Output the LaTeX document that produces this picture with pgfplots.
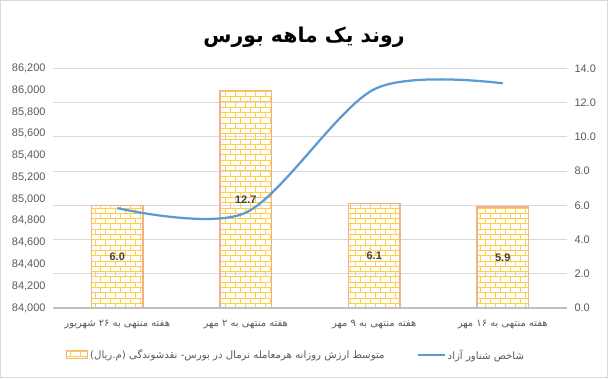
\documentclass[border=0pt]{standalone}
\usepackage{fontspec}
\setmainfont{Liberation Sans}
\newfontfamily\arabicfont[Script=Arabic]{DejaVu Sans}
\TeXXeTstate=1
\usepackage{pgfplots}
\pgfplotsset{compat=1.18}
\usetikzlibrary{patterns}

\definecolor{brick}{RGB}{255,205,70}
\definecolor{brickedge}{RGB}{244,177,131}
\definecolor{lineblue}{RGB}{91,155,213}
\definecolor{gridc}{RGB}{217,217,217}
\definecolor{tickc}{RGB}{89,89,89}
\definecolor{basec}{RGB}{191,191,191}

\pgfdeclarepatternformonly{mybricks}{\pgfqpoint{-1bp}{-1bp}}{\pgfqpoint{11bp}{11.6bp}}{\pgfqpoint{10bp}{10.6bp}}{
  \pgfsetlinewidth{0.8bp}
  \pgfpathmoveto{\pgfqpoint{0bp}{0.5bp}}\pgfpathlineto{\pgfqpoint{10bp}{0.5bp}}
  \pgfpathmoveto{\pgfqpoint{0bp}{5.8bp}}\pgfpathlineto{\pgfqpoint{10bp}{5.8bp}}
  \pgfpathmoveto{\pgfqpoint{0.5bp}{0.5bp}}\pgfpathlineto{\pgfqpoint{0.5bp}{5.8bp}}
  \pgfpathmoveto{\pgfqpoint{5.5bp}{5.8bp}}\pgfpathlineto{\pgfqpoint{5.5bp}{10.6bp}}
  \pgfusepath{stroke}
}

\begin{document}
\begin{tikzpicture}[x=1bp,y=1bp]
\draw[gridc, line width=1bp] (0.5,0.5) rectangle (607.5,377.5);
\useasboundingbox (0,0) rectangle (608,378);
\node[font=\arabicfont\bfseries\fontsize{20.5}{24}\selectfont, text=black] at (304,341) {\beginR روند یک ماهه بورس\endR};

% right axis: bars
\begin{axis}[
  at={(53bp,70bp)}, anchor=south west, scale only axis,
  width=514bp, height=239.7bp,
  xmin=-0.5, xmax=3.5, ymin=0, ymax=14,
  ytick={0,2,4,6,8,10,12,14},
  yticklabel pos=right,
  axis line style={draw=none},
  major tick length=0pt,
  ymajorgrids, grid style={gridc, line width=0.75bp},
  xtick={0,1,2,3},
  xticklabels={
    {\beginR هفته منتهی به ۲۶ شهریور\endR},
    {\beginR هفته منتهی به ۲ مهر\endR},
    {\beginR هفته منتهی به ۹ مهر\endR},
    {\beginR هفته منتهی به ۱۶ مهر\endR}},
  x tick label style={font=\arabicfont\fontsize{10}{12}\selectfont, text=tickc, yshift=-9bp},
  y tick label style={font=\fontsize{11}{13}\selectfont, text=tickc, xshift=4bp,
    /pgf/number format/.cd, fixed, fixed zerofill, precision=1, assume math mode=true, /tikz/.cd},
]
\addplot[ybar, bar width=51.7bp, pattern=mybricks, pattern color=brick, draw=brickedge, line width=1.5bp,
  visualization depends on=rawy \as \rawy,
  nodes near coords={\pgfmathprintnumber[fixed,fixed zerofill,precision=1,assume math mode=true]{\pgfplotspointmeta}},
  every node near coord/.append style={anchor=center, yshift=-\rawy*8.5607bp, font=\bfseries\fontsize{11}{13}\selectfont, text=black!75}]
  coordinates {(0,6.0) (1,12.7) (2,6.1) (3,5.9)};
\draw[basec, line width=1.5bp] (axis cs:-0.5,0) -- (axis cs:3.5,0);
\end{axis}

% left axis: line
\begin{axis}[
  at={(53bp,70bp)}, anchor=south west, scale only axis,
  width=514bp, height=239.7bp,
  xmin=-0.5, xmax=3.5, ymin=84000, ymax=86200,
  ytick={84000,84200,...,86200},
  scaled y ticks=false,
  axis line style={draw=none},
  major tick length=0pt,
  xtick=\empty,
  y tick label style={font=\fontsize{11}{13}\selectfont, text=tickc, xshift=-4bp,
    /pgf/number format/.cd, fixed, precision=0, 1000 sep={,}, assume math mode=true, /tikz/.cd},
  legend columns=2,
  legend style={at={(0.473,-0.196)}, anchor=center, draw=none, fill=none,
    font=\arabicfont\fontsize{10.2}{12}\selectfont, text=tickc,
    /tikz/every even column/.append style={column sep=30bp}},
]
\addlegendimage{legend image code/.code={\draw[pattern=mybricks, pattern color=brick, draw=brickedge, line width=1bp] (0bp,-4bp) rectangle (21bp,4bp);}}
\addlegendentry{\beginR متوسط ارزش روزانه هرمعامله نرمال در بورس- نقدشوندگی (م.ریال)\endR}
\addplot[lineblue, line width=2.25bp, smooth, mark=none,
  legend image code/.code={\draw[lineblue, line width=2.25bp] (0bp,0bp) -- (27bp,0bp);}]
  coordinates {(0,84917) (1,84875) (2,86008) (3,86062)};
\addlegendentry{\beginR شاخص شناور آزاد\endR}
\end{axis}
\end{tikzpicture}
\end{document}
